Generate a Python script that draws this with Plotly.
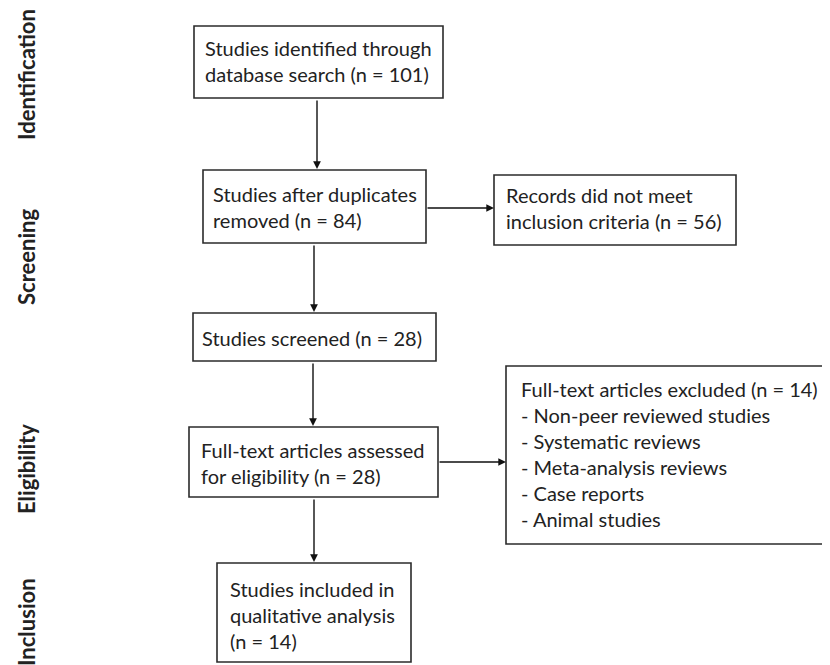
import plotly.graph_objects as go

# ---- content ----
stage_labels = ["Identification", "Screening", "Eligibility", "Inclusion"]

box_texts = [
    ["Studies identified through", "database search (n = 101)"],
    ["Studies after duplicates", "removed (n = 84)"],
    ["Records did not meet", "inclusion criteria (n = 56)"],
    ["Studies screened (n = 28)"],
    ["Full-text articles assessed", "for eligibility (n = 28)"],
    ["Full-text articles excluded (n = 14)", "- Non-peer reviewed studies",
     "- Systematic reviews", "- Meta-analysis reviews", "- Case reports",
     "- Animal studies"],
    ["Studies included in", "qualitative analysis", "(n = 14)"],
]

# ---- layout (page pixel coordinates, y downwards) ----
W, H = 830, 665
PAD = 8  # default page body margin
boxes = [  # x0, y0, x1, y1
    (194, 26, 443, 98),
    (203, 170, 426, 243),
    (494, 175, 736, 245),
    (193, 313, 436, 361),
    (189, 427, 438, 497),
    (506, 366, 829, 544),
    (217, 563, 411, 662),
]
text_x = [203, 211, 504, 200, 199, 519, 228]
text_first_y = [48, 194, 195, 338, 450, 389, 589]
line_step = 26

arrows = [  # x_tail, y_tail, x_head, y_head
    (317, 99, 317, 169),
    (426, 208, 494, 208),
    (314, 244, 314, 312),
    (313, 362, 313, 426),
    (438, 462, 506, 462),
    (314, 498, 314, 562),
]
stage_y = [75, 257, 469, 622]
stage_x = 26

font_family = "Lato, 'Open Sans', sans-serif"
ink = "#222222"

fig = go.Figure()
fig.add_trace(go.Scatter(x=[PAD, W], y=[PAD, H], mode="markers",
                         marker=dict(opacity=0), hoverinfo="skip", showlegend=False))

for (x0, y0, x1, y1) in boxes:
    fig.add_shape(type="rect", x0=x0, y0=y0, x1=x1, y1=y1, xref="x", yref="y",
                  line=dict(color="#2b2b2b", width=1.6), fillcolor="white", layer="below")

for lines, tx, ty in zip(box_texts, text_x, text_first_y):
    for i, ln in enumerate(lines):
        fig.add_annotation(x=tx, y=ty + i * line_step, xref="x", yref="y", text=ln,
                           showarrow=False, xanchor="left", yanchor="middle",
                           font=dict(family=font_family, size=20, color=ink))

for (xt, yt, xh, yh) in arrows:
    fig.add_annotation(x=xh, y=yh, ax=xt, ay=yt, xref="x", yref="y", axref="x", ayref="y",
                       text="", showarrow=True, arrowhead=2, arrowsize=1.1, arrowwidth=1.4,
                       arrowcolor="#111111", standoff=0, startstandoff=0)

for lab, sy in zip(stage_labels, stage_y):
    fig.add_annotation(x=stage_x, y=sy, xref="x", yref="y", text="<b>" + lab + "</b>",
                       showarrow=False, textangle=-90, xanchor="center", yanchor="middle",
                       font=dict(family=font_family, size=22, color=ink))

fig.update_xaxes(range=[PAD, W], visible=False, fixedrange=True)
fig.update_yaxes(range=[H, PAD], visible=False, fixedrange=True)
fig.update_layout(width=W - PAD, height=H - PAD, margin=dict(l=0, r=0, t=0, b=0),
                  paper_bgcolor="white", plot_bgcolor="white", showlegend=False)

fig.write_html("out.html")
